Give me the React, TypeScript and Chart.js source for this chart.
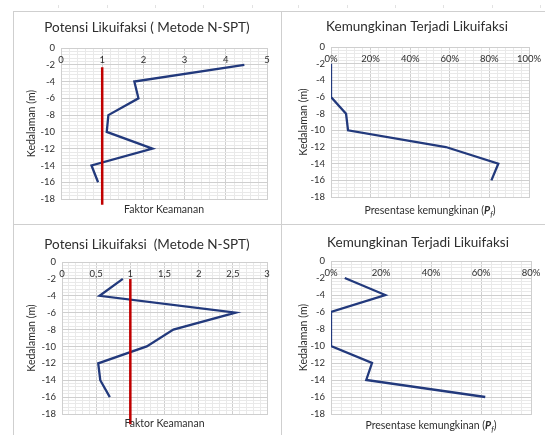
import { useEffect, useRef } from "react";
import { Chart, registerables } from "chart.js";

Chart.register(...registerables);

// ---------- data ----------
const depths = [-2, -4, -6, -8, -10, -12, -14, -16];
const depthTickStep = 2;

const fsTop = [4.45, 1.78, 1.88, 1.15, 1.11, 2.22, 0.74, 0.9];
const pfTop = [0, 0, 0, 7.6, 8.6, 58, 84.5, 81];
const fsBottom = [0.89, 0.55, 2.54, 1.63, 1.24, 0.53, 0.56, 0.7];
const pfBottom = [5.5, 21.7, 0, 0, 0, 16.4, 14.1, 61.7];

const limitX = [1, 1];
const limitDepthTop = [-2.3, -18.7];
const limitDepthBottom = [-2, -19.2];

const fsTopTicks = [0, 1, 2, 3, 4, 5];
const pfTopTicks = [0, 20, 40, 60, 80, 100];
const fsBottomTicks = [0, 0.5, 1, 1.5, 2, 2.5, 3];
const pfBottomTicks = [0, 20, 40, 60, 80];

const titleTL = "Potensi Likuifaksi ( Metode N-SPT)";
const titleTR = "Kemungkinan Terjadi Likuifaksi";
const titleBL = "Potensi Likuifaksi  (Metode N-SPT)";
const titleBR = "Kemungkinan Terjadi Likuifaksi";
const yTitle = "Kedalaman (m)";
const xTitleFs = "Faktor Keamanan";
const xTitlePf = "Presentase kemungkinan (";

// ---------- styles ----------
const FONT = "Lato, 'Open Sans', sans-serif";
const TEXT = "#2e2e2e";
const MAJOR = "#cfcfcf";
const MINOR = "#e9e9e9";
const BLUE = "#22397c";
const RED = "#c00000";
const FRAME = "#cfcfcf";
const TITLE_SIZE = 13.5;
const TICK_SIZE = 9.5;
const AXIS_SIZE = 10.5;
const TICK_OFFSET = 11.5;

type Seg = { text: string; style?: string; weight?: string; scale?: number; dy?: number };
type Panel = {
  cell: { x: number; y: number; w: number; h: number };
  plot: { l: number; t: number; r: number; b: number };
  title: string;
  titlePos: [number, number];
  xTitle: Seg[];
  xTitleY: number;
  yTitleX: number;
  xMax: number;
  xMajor: number;
  xMinor: number;
  xTicks: number[];
  fmt: (v: number) => string;
  values: number[];
  limit?: number[];
};

const fmtNum = (v: number) => String(v).replace(".", ",");
const fmtPct = (v: number) => `${v}%`;

const pfTitle: Seg[] = [
  { text: xTitlePf },
  { text: "P", style: "italic", weight: "bold" },
  { text: "f", style: "italic", scale: 0.75, dy: 3 },
  { text: ")" },
];

const panels: Panel[] = [
  {
    cell: { x: 14, y: 12, w: 267, h: 212 },
    plot: { l: 61, t: 48, r: 267, b: 199 },
    title: titleTL,
    titlePos: [147, 28],
    xTitle: [{ text: xTitleFs }],
    xTitleY: 210,
    yTitleX: 31.5,
    xMax: 5,
    xMajor: 1,
    xMinor: 0.2,
    xTicks: fsTopTicks,
    fmt: fmtNum,
    values: fsTop,
    limit: limitDepthTop,
  },
  {
    cell: { x: 282, y: 12, w: 263, h: 212 },
    plot: { l: 331, t: 47, r: 529, b: 197 },
    title: titleTR,
    titlePos: [417, 27],
    xTitle: pfTitle,
    xTitleY: 211,
    yTitleX: 303.5,
    xMax: 100,
    xMajor: 20,
    xMinor: 4,
    xTicks: pfTopTicks,
    fmt: fmtPct,
    values: pfTop,
  },
  {
    cell: { x: 14, y: 225, w: 267, h: 210 },
    plot: { l: 62, t: 262, r: 267, b: 414 },
    title: titleBL,
    titlePos: [147, 245],
    xTitle: [{ text: xTitleFs }],
    xTitleY: 424,
    yTitleX: 31.5,
    xMax: 3,
    xMajor: 0.5,
    xMinor: 0.1,
    xTicks: fsBottomTicks,
    fmt: fmtNum,
    values: fsBottom,
    limit: limitDepthBottom,
  },
  {
    cell: { x: 282, y: 225, w: 263, h: 210 },
    plot: { l: 331, t: 261, r: 531, b: 414 },
    title: titleBR,
    titlePos: [418, 243],
    xTitle: pfTitle,
    xTitleY: 426,
    yTitleX: 303.5,
    xMax: 80,
    xMajor: 20,
    xMinor: 4,
    xTicks: pfBottomTicks,
    fmt: fmtPct,
    values: pfBottom,
  },
];

const rulerTicks = [58, 107, 155, 203, 252, 298, 347, 395, 443, 492, 540];

function isMajor(v: number, step: number) {
  const r = v / step;
  return Math.abs(r - Math.round(r)) < 1e-6;
}

function makeTextPlugin(p: Panel) {
  return {
    id: "panelText",
    afterDraw(chart: any) {
      const ctx = chart.ctx as CanvasRenderingContext2D;
      const xs = chart.scales.x;
      const area = chart.chartArea;
      const ox = p.cell.x;
      const oy = p.cell.y;
      ctx.save();
      ctx.fillStyle = TEXT;
      ctx.textAlign = "center";
      ctx.textBaseline = "middle";
      ctx.font = `${TITLE_SIZE}px ${FONT}`;
      ctx.fillText(p.title, p.titlePos[0] - ox, p.titlePos[1] - oy);

      ctx.font = `${TICK_SIZE}px ${FONT}`;
      for (const v of p.xTicks) {
        ctx.fillText(p.fmt(v), xs.getPixelForValue(v), area.top + TICK_OFFSET);
      }

      const fonts = p.xTitle.map(
        (s) => `${s.style || "normal"} ${s.weight || "normal"} ${AXIS_SIZE * (s.scale || 1)}px ${FONT}`
      );
      const widths = p.xTitle.map((s, i) => {
        ctx.font = fonts[i];
        return ctx.measureText(s.text).width;
      });
      const total = widths.reduce((a, b) => a + b, 0);
      let x = (area.left + area.right) / 2 - total / 2;
      const cy = p.xTitleY - oy;
      ctx.textAlign = "left";
      p.xTitle.forEach((s, i) => {
        ctx.font = fonts[i];
        ctx.fillText(s.text, x, cy + (s.dy || 0));
        x += widths[i];
      });
      ctx.restore();
    },
  };
}

function PanelChart({ p }: { p: Panel }) {
  const ref = useRef<HTMLCanvasElement>(null);
  useEffect(() => {
    if (!ref.current) return;
    const datasets: any[] = [];
    if (p.limit) {
      datasets.push({
        data: limitX.map((x, i) => ({ x, y: p.limit![i] })),
        showLine: true,
        borderColor: RED,
        borderWidth: 2.5,
        pointRadius: 0,
        clip: false,
      });
    }
    datasets.push({
      data: depths.map((d, i) => ({ x: p.values[i], y: d })),
      showLine: true,
      borderColor: BLUE,
      borderWidth: 2.3,
      pointRadius: 0,
      tension: 0,
    });
    const gridColor = (step: number) => (c: any) =>
      c.tick && !isMajor(c.tick.value, step) ? MINOR : MAJOR;
    const chart = new Chart(ref.current, {
      type: "scatter",
      data: { datasets },
      options: {
        responsive: false,
        animation: false,
        events: [],
        layout: {
          padding: {
            left: 0,
            top: p.plot.t - p.cell.y,
            right: p.cell.x + p.cell.w - p.plot.r,
            bottom: 0,
          },
        },
        plugins: {
          legend: { display: false },
          tooltip: { enabled: false },
          title: { display: false },
        },
        scales: {
          x: {
            type: "linear",
            position: "bottom",
            min: 0,
            max: p.xMax,
            ticks: { display: false, stepSize: p.xMinor, autoSkip: false },
            grid: { color: gridColor(p.xMajor), drawTicks: false, lineWidth: 1 },
            border: { display: true, color: MAJOR },
            afterFit: (s: any) => {
              s.height = p.cell.y + p.cell.h - p.plot.b;
            },
          },
          y: {
            type: "linear",
            position: "left",
            min: -18,
            max: 0,
            ticks: {
              stepSize: 0.4,
              autoSkip: false,
              padding: 6,
              color: TEXT,
              font: { family: FONT, size: TICK_SIZE },
              callback: (v: any) => (isMajor(Number(v), depthTickStep) ? String(Math.round(Number(v))) : ""),
            },
            grid: { color: gridColor(depthTickStep), drawTicks: false, lineWidth: 1 },
            border: { display: true, color: MAJOR },
            title: {
              display: true,
              text: yTitle,
              color: TEXT,
              font: { family: FONT, size: AXIS_SIZE },
              padding: { top: p.yTitleX - p.cell.x - (AXIS_SIZE * 1.2) / 2, bottom: 0 },
            },
            afterFit: (s: any) => {
              s.width = p.plot.l - p.cell.x;
            },
          },
        },
      } as any,
      plugins: [makeTextPlugin(p)],
    });
    return () => chart.destroy();
  }, [p]);
  return (
    <canvas
      ref={ref}
      width={p.cell.w}
      height={p.cell.h}
      style={{ position: "absolute", left: p.cell.x, top: p.cell.y, width: p.cell.w, height: p.cell.h }}
    />
  );
}

export default function App() {
  const line = (left: number, top: number, width: number, height: number, color = FRAME) => ({
    position: "absolute" as const,
    left,
    top,
    width,
    height,
    background: color,
  });
  return (
    <div
      style={{
        position: "absolute",
        left: 0,
        top: 0,
        width: 545,
        height: 435,
        background: "#fff",
        overflow: "hidden",
      }}
    >
      {rulerTicks.map((x, i) => (
        <div key={i} style={line(x, 5, 1, 3, "#e2e2e2")} />
      ))}
      <div style={line(13, 11, 532, 1)} />
      <div style={line(13, 11, 1, 424)} />
      <div style={line(281, 11, 1, 424)} />
      <div style={line(13, 224, 532, 1)} />
      {panels.map((p, i) => (
        <PanelChart key={i} p={p} />
      ))}
    </div>
  );
}
